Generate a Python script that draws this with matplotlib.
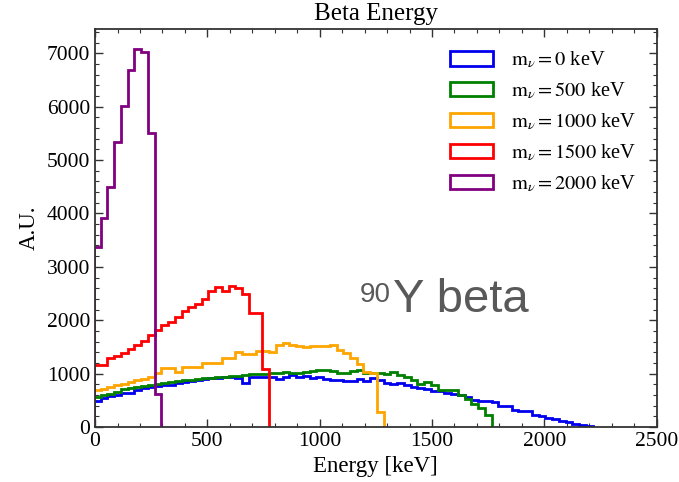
import matplotlib
matplotlib.use('Agg')
import matplotlib.pyplot as plt
import numpy as np
from matplotlib.ticker import MultipleLocator

plt.rcParams['font.family'] = ['Liberation Serif', 'DejaVu Serif']
plt.rcParams['mathtext.fontset'] = 'stix'

# common binning (keV)
bin_width = 30
bin_start = -5

# bin contents, one value per bin starting at bin_start
blue_vals = [490, 540, 590, 600, 630, 640, 700, 740, 750, 760,
             780, 790, 820, 850, 870, 880, 900, 920, 920, 930,
             940, 910, 820, 930, 940, 940, 945, 900, 935, 970,
             945, 955, 915, 930, 895, 880, 880, 855, 860, 895,
             870, 910, 885, 832, 807, 820, 788, 757, 726, 715,
             682, 682, 645, 620, 595, 560, 510, 490, 480, 470,
             400, 385, 310, 305, 295, 220, 210, 170, 150, 120,
             90, 50, 40, 20]
green_vals = [570, 600, 610, 663, 720, 730, 757, 770, 788, 800,
              818, 840, 855, 881, 890, 900, 910, 920, 930, 940,
              950, 960, 970, 985, 985, 990, 1007, 1007, 1026, 1007,
              1007, 1026, 1045, 1069, 1069, 1045, 1020, 1007, 1045, 1069,
              1007, 1010, 1007, 995, 1038, 976, 932, 882, 807, 851,
              788, 695, 695, 695, 601, 530, 440, 350, 230]
orange_vals = [700, 720, 745, 790, 800, 840, 880, 895, 935, 1007,
               1100, 1100, 1037, 1131, 1131, 1131, 1194, 1206, 1206, 1288,
               1288, 1412, 1369, 1369, 1431, 1431, 1412, 1537, 1581, 1537,
               1519, 1494, 1519, 1519, 1519, 1537, 1444, 1382, 1288, 1181,
               1037, 1005, 290]
red_vals = [1160, 1160, 1290, 1330, 1390, 1470, 1540, 1620, 1720, 1820,
            1910, 1975, 2060, 2170, 2250, 2300, 2390, 2550, 2630, 2540,
            2640, 2600, 2490, 2140, 2140, 1080]
purple_vals = [3370, 3910, 4490, 5330, 6010, 6690, 7080, 7030, 5510, 620]

series = [blue_vals, green_vals, orange_vals, red_vals, purple_vals]
masses = [0, 500, 1000, 1500, 2000]
colors = ['#0000ee', 'green', 'orange', 'red', 'purple']

fig = plt.figure(figsize=(6.79, 4.82), dpi=100)
ax = fig.add_axes([0.140, 0.114, 0.827, 0.825])

for vals, m, c in zip(series, masses, colors):
    edges = bin_start + bin_width * np.arange(len(vals) + 1)
    ax.hist(edges[:-1], bins=edges, weights=vals, histtype='step',
            color=c, lw=2.0, label=r'$\mathrm{m}_{\nu} = %d$ keV' % m)

ax.set_xlim(0, 2500)
ax.set_ylim(0, 7446)
ax.xaxis.set_major_locator(MultipleLocator(500))
ax.xaxis.set_minor_locator(MultipleLocator(100))
ax.yaxis.set_major_locator(MultipleLocator(1000))
ax.yaxis.set_minor_locator(MultipleLocator(200))
ax.tick_params(which='both', direction='in', top=True, right=True,
               labelsize=15.5, color='#333333')
ax.tick_params(which='major', length=6, width=1)
ax.tick_params(which='minor', length=3, width=0.8)
for s in ax.spines.values():
    s.set_linewidth(1.3)
    s.set_color('#333333')

ax.set_title('Beta Energy', fontsize=18, pad=7)
ax.set_xlabel('Energy [keV]', fontsize=16.5, labelpad=4)
ax.set_ylabel('A.U.', fontsize=16.5, labelpad=5)

ax.legend(loc='upper right', frameon=False, fontsize=14.7,
          handlelength=2.1, handleheight=0.7, labelspacing=0.50,
          handletextpad=0.9, bbox_to_anchor=(1.0, 1.0), borderaxespad=0.6)

fig.text(0.530, 0.373, '90', fontsize=20, color='#595959',
         family='Liberation Sans', va='baseline')
fig.text(0.579, 0.353, 'Y beta', fontsize=34, color='#595959',
         family='Liberation Sans', va='baseline')

fig.savefig('out.png', dpi=100)
